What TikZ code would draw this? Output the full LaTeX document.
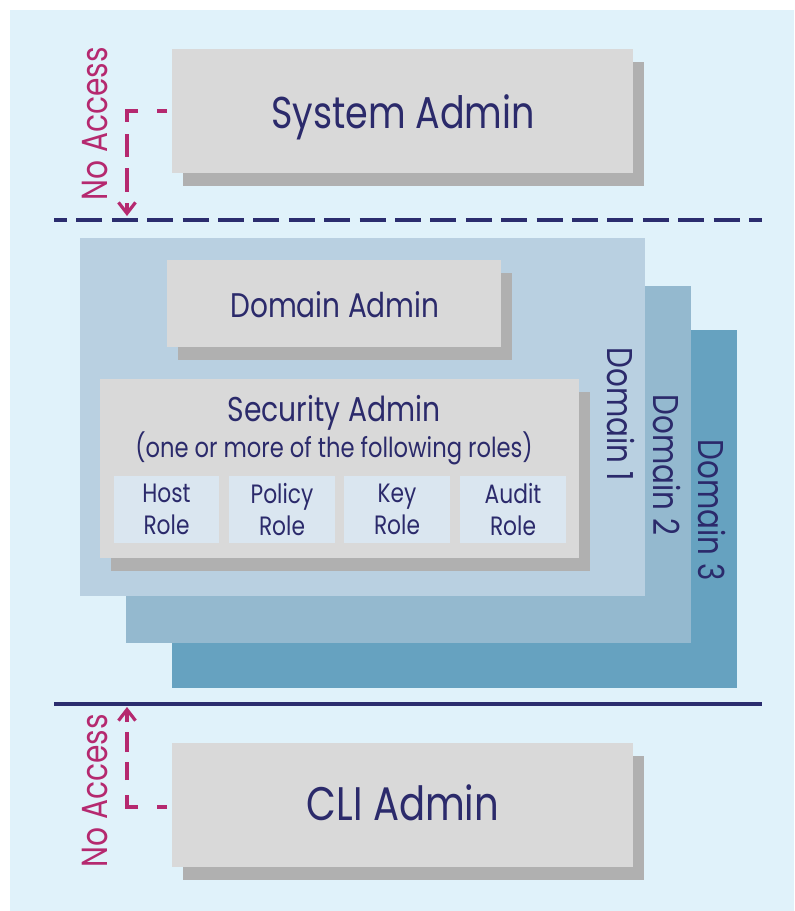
\documentclass[tikz,border=0pt]{standalone}
\usepackage{fontspec}
\setmainfont{Poppins}[FakeStretch=0.82]
\usetikzlibrary{arrows.meta,shadows,fit}
\definecolor{bgblue}{HTML}{E0F2FA}
\definecolor{boxgray}{HTML}{D9D9D9}
\definecolor{shadowgray}{HTML}{B0B0B0}
\definecolor{domone}{HTML}{B9D0E1}
\definecolor{domtwo}{HTML}{94B9CF}
\definecolor{domthree}{HTML}{66A2C0}
\definecolor{rolefill}{HTML}{DAE6F0}
\definecolor{navytext}{HTML}{2B2A6B}
\definecolor{navyline}{HTML}{2B2D6E}
\definecolor{accessmag}{HTML}{B5296F}
\begin{document}
\begin{tikzpicture}[x=0.75pt,y=-0.75pt,
  panel/.style={inner sep=0pt, outer sep=0pt},
  adminbox/.style={panel, fill=boxgray, drop shadow={shadow xshift=8.25pt, shadow yshift=-9.75pt, opacity=1, fill=shadowgray}},
  rolebox/.style={panel, fill=rolefill},
  basetext/.style={text=navytext, inner sep=0pt, anchor=base},
  midtext/.style={basetext, font=\fontsize{26pt}{32pt}\selectfont},
  roletext/.style={text=navytext, inner sep=0pt, anchor=center, align=center, font=\fontsize{19.9pt}{24pt}\selectfont},
  accesstext/.style={text=accessmag, inner sep=0pt, anchor=base, rotate=90, font=\fontsize{27.2pt}{32pt}\selectfont},
  domlabel/.style={basetext, rotate=-90, font=\fontsize{26.9pt}{32pt}\selectfont},
  divider/.style={draw=navyline, line width=2.625pt},
  accessline/.style={draw=accessmag, line width=2.4pt, -{Straight Barb[length=8.25pt,width=12.75pt]}}
]
\useasboundingbox (0,0) rectangle (794,911);
\fill[bgblue] (10,10) rectangle (794,911);

% domains
\node[panel, fill=domthree, fit={(172,330) (737,688)}] (dom3) {};
\node[panel, fill=domtwo, fit={(126,286) (691,643)}] (dom2) {};
\node[panel, fill=domone, fit={(80,238) (645,596)}] (dom1) {};
\node[domlabel] (dom1txt) at (607,414) {Domain 1};
\node[domlabel] (dom2txt) at (653,465) {Domain 2};
\node[domlabel] (dom3txt) at (698,510) {Domain 3};

% admin boxes
\node[adminbox, fit={(172,49) (633,173)}] (sys) {};
\node[basetext, font=\fontsize{33.4pt}{40pt}\selectfont] (systxt) at (403,128) {System Admin};
\node[adminbox, fit={(167,260) (501,347)}] (dadm) {};
\node[basetext, font=\fontsize{25.6pt}{32pt}\selectfont] (dadmtxt) at (335,317) {Domain Admin};
\node[adminbox, fit={(100,379) (579,558)}] (sadm) {};
\node[basetext, font=\fontsize{25.8pt}{32pt}\selectfont] (sadmtxt) at (334,421) {Security Admin};
\node[basetext, font=\fontsize{20.7pt}{24pt}\selectfont] (sadmsub) at (334,457) {(one or more of the following roles)};
\node[rolebox, fit={(114,476) (219,543)}] (host) {};
\node[rolebox, fit={(229,476) (335,543)}] (policy) {};
\node[rolebox, fit={(344,476) (450,543)}] (key) {};
\node[rolebox, fit={(460,476) (566,543)}] (audit) {};
\node[roletext] (hosttxt) at (host.center) {Host\\Role};
\node[roletext] (policytxt) at (policy.center) {Policy\\Role};
\node[roletext] (keytxt) at (key.center) {Key\\Role};
\node[roletext] (audittxt) at (audit.center) {Audit\\Role};
\node[adminbox, fit={(172,743) (633,867)}] (cli) {};
\node[basetext, font=\fontsize{35.3pt}{42pt}\selectfont] (clitxt) at (403,820) {CLI Admin};

% dividers
\coordinate (topl) at (54,220);
\coordinate (topr) at (762,220);
\coordinate (botl) at (54,704);
\coordinate (botr) at (762,704);
\draw[divider, dash pattern=on 19.5pt off 7.05pt, dash phase=9.75pt] (topl) -- (topr);
\draw[divider] (botl) -- (botr);

% no access
\coordinate (a1s) at (167,111);
\coordinate (a1e) at (127,216);
\draw[accessline, dash pattern=on 7.5pt off 14.25pt on 16.5pt off 9pt on 17.25pt off 8.25pt on 18pt off 8.25pt on 22.5pt] (a1s) -| (a1e);
\node[accesstext] (na1) at (107,124) {No Access};
\coordinate (a2s) at (167,807);
\coordinate (a2e) at (127,707);
\draw[accessline, dash pattern=on 7.5pt off 14.25pt on 17.25pt off 11.25pt on 13.5pt off 7.5pt on 15pt off 7.5pt on 15pt] (a2s) -| (a2e);
\node[accesstext] (na2) at (107,791) {No Access};
\end{tikzpicture}
\end{document}
